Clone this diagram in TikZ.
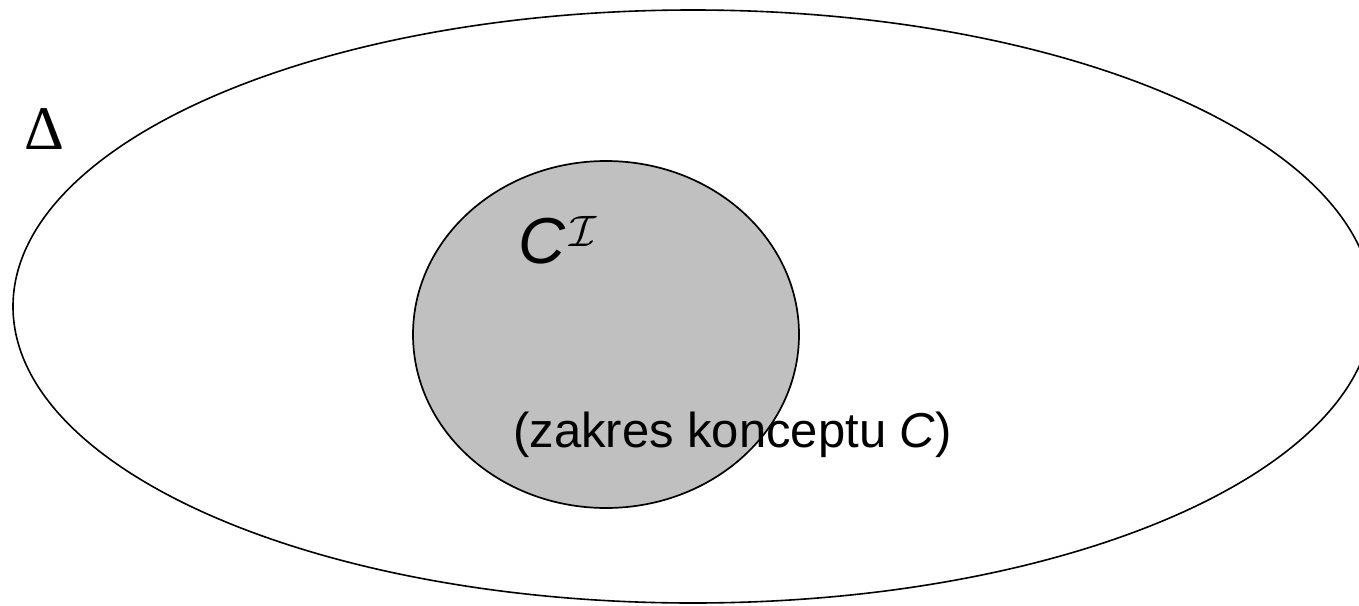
\documentclass[tikz,border=0pt]{standalone}
\usepackage{fix-cm}
\usepackage[no-math]{fontspec}
\setmainfont{Liberation Sans}
\newfontfamily\greekfont{Liberation Serif}
\definecolor{conceptgray}{RGB}{192,192,192}
\usetikzlibrary{shapes.geometric}
\tikzstyle{universe}=[draw,ellipse,inner sep=0pt,line width=1.6pt]
\tikzstyle{extent}=[draw,ellipse,fill=conceptgray,inner sep=0pt,line width=1.7pt]
\tikzstyle{caption}=[inner sep=0pt,anchor=base west]

\begin{document}
\begin{tikzpicture}[x=1pt, y=-1pt]
  \clip (0,0) rectangle (1359,605);
  % interpretation domain and the extent of C inside it
  \node[universe, minimum width=1360pt, minimum height=593pt] (delta) at (693,306.5) {};
  \node[extent, minimum width=386pt, minimum height=347pt]    (ext)   at (606,334.5) {};

  \node[caption] (dlabel) at (24,149) {\fontsize{62}{62}\selectfont\greekfont Δ};
  \node[caption] (clabel) at (518,263)
    {\fontsize{65}{65}\selectfont\textit{C}\kern4pt\raisebox{17pt}{\fontsize{44}{44}\selectfont$\mathcal{I}$}};
  \node[caption] (elabel) at (513,447)
    {\fontsize{49}{49}\selectfont(zakres konceptu \textit{C})};
\end{tikzpicture}
\end{document}
